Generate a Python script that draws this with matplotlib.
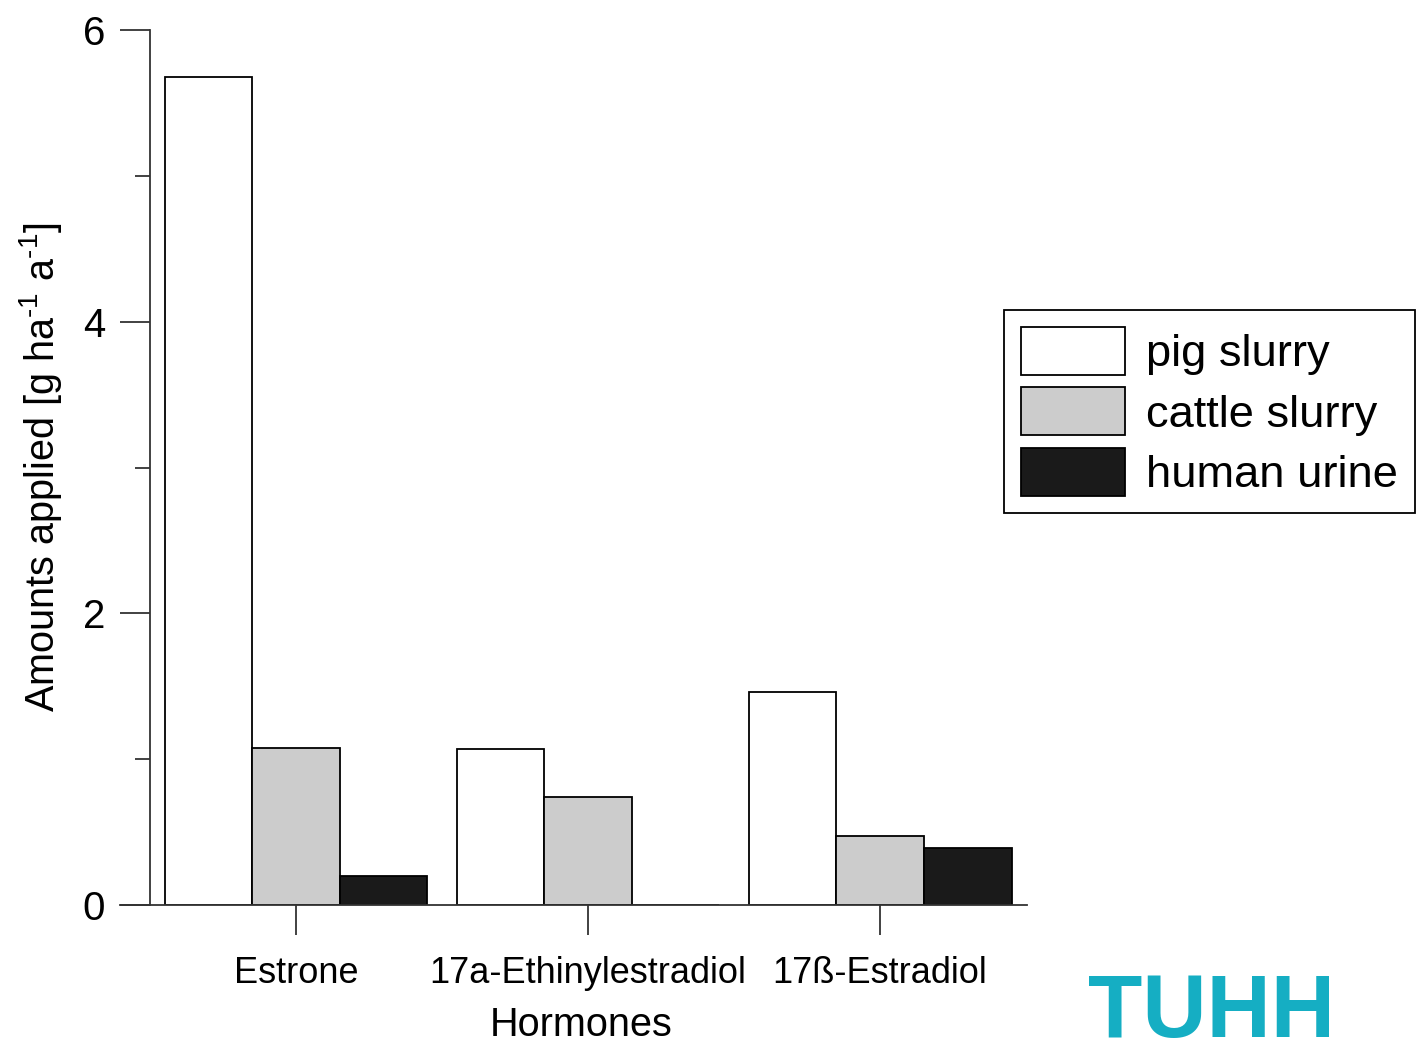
import matplotlib.pyplot as plt
import numpy as np
from matplotlib.ticker import FixedLocator

hormonios = ["Estrone", "17a-Ethinylestradiol", "17ß-Estradiol"]
series = ["pig slurry", "cattle slurry", "human urine"]
pig_slurry = [5.68, 1.07, 1.46]
cattle_slurry = [1.08, 0.74, 0.47]
human_urine = [0.20, 0.0, 0.39]
cores = ["white", "#cccccc", "#1a1a1a"]
yticks_major = [0, 2, 4, 6]
yticks_minor = [1, 3, 5]

plt.rcParams["font.family"] = ["Liberation Sans", "DejaVu Sans"]
plt.rcParams["mathtext.fontset"] = "custom"
plt.rcParams["mathtext.rm"] = "Liberation Sans"
plt.rcParams["mathtext.default"] = "regular"

W, H = 1421, 1044
fig = plt.figure(figsize=(W / 100, H / 100), dpi=100)
ax = fig.add_axes([150 / W, 1 - 905 / H, 877 / W, 875 / H])

## Barras agrupadas
x = np.arange(len(hormonios))
largura = 0.3
barras = []
for i, (valores, nome, cor) in enumerate(
    zip([pig_slurry, cattle_slurry, human_urine], series, cores)
):
    b = ax.bar(
        x + (i - 1) * largura,
        valores,
        largura,
        color=cor,
        edgecolor="black",
        linewidth=1.3,
        label=nome,
    )
    barras.append(b)

ax.set_xlim(-0.5, 2.503)
ax.set_ylim(0, 6)

## Eixos
cor_eixo = "#333333"
for lado in ("top", "right"):
    ax.spines[lado].set_visible(False)
for lado in ("left", "bottom"):
    ax.spines[lado].set_color(cor_eixo)
    ax.spines[lado].set_linewidth(1.3)
ax.spines["bottom"].set_bounds(-0.603, 2.503)
ax.spines["bottom"].set_clip_on(False)

ax.set_xticks(x)
ax.set_xticklabels(hormonios, fontsize=26)
ax.yaxis.set_major_locator(FixedLocator(yticks_major))
ax.yaxis.set_minor_locator(FixedLocator(yticks_minor))
ax.tick_params(axis="y", which="major", direction="out", length=21.6, width=1.3,
               color=cor_eixo, labelsize=29, pad=10.8)
ax.tick_params(axis="y", which="minor", direction="out", length=10.8, width=1.3,
               color=cor_eixo)
ax.tick_params(axis="x", which="major", direction="out", length=21.6, width=1.3,
               color=cor_eixo, pad=15)

ax.set_xlabel("Hormones", fontsize=28.5, labelpad=11, x=(581 - 150) / 877)
ax.set_ylabel("Amounts applied [g ha$^{\u20101}$ a$^{\u20101}$]",
              fontsize=28.5, labelpad=13)

## Legenda
leg = fig.legend(
    handles=barras,
    labels=series,
    loc="upper left",
    bbox_to_anchor=(1004 / W, 1 - 310 / H),
    bbox_transform=fig.transFigure,
    borderaxespad=0,
    fontsize=32.6,
    handlelength=2.30,
    handleheight=1.254,
    handletextpad=0.46,
    labelspacing=0.265,
    borderpad=0.38,
    fancybox=False,
    framealpha=1,
    edgecolor="black",
)
leg.get_frame().set_linewidth(1.3)

## Logo
fig.text(1088 / W, 1 - 1037 / H, "TUHH", fontsize=64, fontweight="bold",
         color="#15aec3", ha="left", va="baseline")

fig.savefig("out.png", dpi=100)
